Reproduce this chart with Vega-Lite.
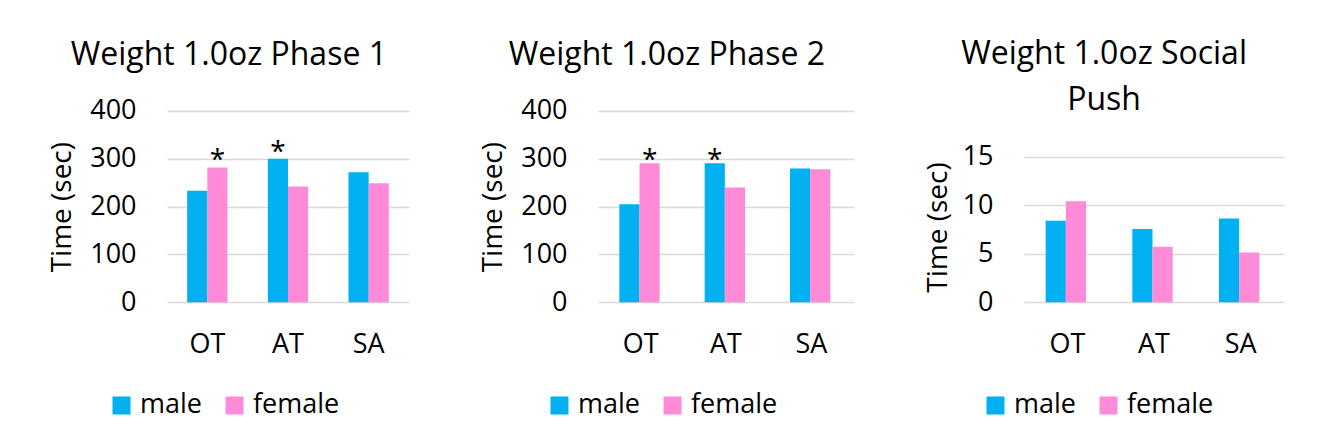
{
  "$schema": "https://vega.github.io/schema/vega-lite/v6.json",
  "background": "white",
  "padding": {"left": 48, "top": 38, "right": 0, "bottom": 0},
  "spacing": 70,
  "data": {
    "values": [
      {"panel": "p1", "task": "OT", "sex": "male", "time": 233, "sig": ""},
      {"panel": "p1", "task": "OT", "sex": "female", "time": 282, "sig": "*"},
      {"panel": "p1", "task": "AT", "sex": "male", "time": 300, "sig": "*"},
      {"panel": "p1", "task": "AT", "sex": "female", "time": 242, "sig": ""},
      {"panel": "p1", "task": "SA", "sex": "male", "time": 272, "sig": ""},
      {"panel": "p1", "task": "SA", "sex": "female", "time": 249, "sig": ""},
      {"panel": "p2", "task": "OT", "sex": "male", "time": 205, "sig": ""},
      {"panel": "p2", "task": "OT", "sex": "female", "time": 291, "sig": "*"},
      {"panel": "p2", "task": "AT", "sex": "male", "time": 291, "sig": "*"},
      {"panel": "p2", "task": "AT", "sex": "female", "time": 240, "sig": ""},
      {"panel": "p2", "task": "SA", "sex": "male", "time": 280, "sig": ""},
      {"panel": "p2", "task": "SA", "sex": "female", "time": 278, "sig": ""},
      {"panel": "p3", "task": "OT", "sex": "male", "time": 8.4, "sig": ""},
      {"panel": "p3", "task": "OT", "sex": "female", "time": 10.4, "sig": ""},
      {"panel": "p3", "task": "AT", "sex": "male", "time": 7.55, "sig": ""},
      {"panel": "p3", "task": "AT", "sex": "female", "time": 5.73, "sig": ""},
      {"panel": "p3", "task": "SA", "sex": "male", "time": 8.62, "sig": ""},
      {"panel": "p3", "task": "SA", "sex": "female", "time": 5.12, "sig": ""}
    ]
  },
  "config": {
    "font": "Open Sans",
    "view": {"stroke": null},
    "title": {
      "fontSize": 32,
      "fontWeight": "normal",
      "color": "#000000",
      "lineHeight": 46,
      "anchor": "middle",
      "frame": "bounds",
      "baseline": "alphabetic",
      "offset": 25
    },
    "axis": {
      "labelFontSize": 27,
      "labelColor": "#000000",
      "titleFontSize": 28,
      "titleFontWeight": "normal",
      "titleColor": "#000000",
      "ticks": false,
      "domain": false,
      "gridColor": "#d9d9d9",
      "gridWidth": 1.5
    },
    "legend": {
      "orient": "none",
      "direction": "horizontal",
      "title": null,
      "padding": 0,
      "gridAlign": "none",
      "symbolType": "square",
      "symbolSize": 324,
      "symbolStrokeWidth": 0,
      "symbolOpacity": 1,
      "labelFontSize": 27,
      "labelColor": "#000000",
      "labelLimit": 300,
      "labelOffset": 5,
      "columnPadding": 19
    }
  },
  "resolve": {"legend": {"color": "independent"}},
  "hconcat": [
    {
      "width": 242,
      "height": 191.3,
      "title": {"text": "Weight 1.0oz Phase 1"},
      "transform": [{"filter": "datum.panel === 'p1'"}],
      "encoding": {
        "x": {
          "field": "task", "type": "nominal", "sort": ["OT", "AT", "SA"],
          "scale": {"paddingInner": 0.5, "paddingOuter": 0.25},
          "axis": {"title": null, "labelAngle": 0, "labelPadding": 50, "labelBaseline": "alphabetic", "grid": false}
        },
        "y": {
          "field": "time", "type": "quantitative",
          "scale": {"domain": [0, 400]},
          "axis": {"values": [0, 100, 200, 300, 400], "title": "Time (sec)", "labelPadding": 31, "titlePadding": 19, "titleBaseline": "alphabetic", "grid": true}
        },
        "xOffset": {"field": "sex", "type": "nominal", "scale": {"domain": ["male", "female"]}}
      },
      "layer": [
        {
          "mark": {"type": "bar"},
          "encoding": {
            "color": {
              "field": "sex", "type": "nominal",
              "scale": {"domain": ["male", "female"], "range": ["#00B0F0", "#FF8AD8"]},
              "legend": {"legendX": -59, "legendY": 281}
            }
          }
        },
        {
          "transform": [{"filter": "datum.sig === '*'"}],
          "mark": {"type": "text", "baseline": "alphabetic", "dy": 2, "fontSize": 28, "color": "#000000"},
          "encoding": {"text": {"field": "sig"}}
        }
      ]
    },
    {
      "width": 256,
      "height": 191.3,
      "title": {"text": "Weight 1.0oz Phase 2"},
      "transform": [{"filter": "datum.panel === 'p2'"}],
      "encoding": {
        "x": {
          "field": "task", "type": "nominal", "sort": ["OT", "AT", "SA"],
          "scale": {"paddingInner": 0.5, "paddingOuter": 0.25},
          "axis": {"title": null, "labelAngle": 0, "labelPadding": 50, "labelBaseline": "alphabetic", "grid": false}
        },
        "y": {
          "field": "time", "type": "quantitative",
          "scale": {"domain": [0, 400]},
          "axis": {"values": [0, 100, 200, 300, 400], "title": "Time (sec)", "labelPadding": 31, "titlePadding": 19, "titleBaseline": "alphabetic", "grid": true}
        },
        "xOffset": {"field": "sex", "type": "nominal", "scale": {"domain": ["male", "female"]}}
      },
      "layer": [
        {
          "mark": {"type": "bar"},
          "encoding": {
            "color": {
              "field": "sex", "type": "nominal",
              "scale": {"domain": ["male", "female"], "range": ["#00B0F0", "#FF8AD8"]},
              "legend": {"legendX": -52, "legendY": 281}
            }
          }
        },
        {
          "transform": [{"filter": "datum.sig === '*'"}],
          "mark": {"type": "text", "baseline": "alphabetic", "dy": 6, "fontSize": 28, "color": "#000000"},
          "encoding": {"text": {"field": "sig"}}
        }
      ]
    },
    {
      "width": 260,
      "height": 191.3,
      "title": {"text": ["Weight 1.0oz Social", "Push"], "dy": 31},
      "transform": [{"filter": "datum.panel === 'p3'"}],
      "encoding": {
        "x": {
          "field": "task", "type": "nominal", "sort": ["OT", "AT", "SA"],
          "scale": {"paddingInner": 0.5, "paddingOuter": 0.25},
          "axis": {"title": null, "labelAngle": 0, "labelPadding": 50, "labelBaseline": "alphabetic", "grid": false}
        },
        "y": {
          "field": "time", "type": "quantitative",
          "scale": {"domain": [0, 19.7], "nice": false},
          "axis": {"values": [0, 5, 10, 15], "title": "Time (sec)", "titleY": 116, "labelPadding": 31, "titlePadding": 16, "titleBaseline": "alphabetic", "grid": true}
        },
        "xOffset": {"field": "sex", "type": "nominal", "scale": {"domain": ["male", "female"]}}
      },
      "layer": [
        {
          "mark": {"type": "bar"},
          "encoding": {
            "color": {
              "field": "sex", "type": "nominal",
              "scale": {"domain": ["male", "female"], "range": ["#00B0F0", "#FF8AD8"]},
              "legend": {"legendX": -42, "legendY": 281}
            }
          }
        }
      ]
    }
  ]
}
